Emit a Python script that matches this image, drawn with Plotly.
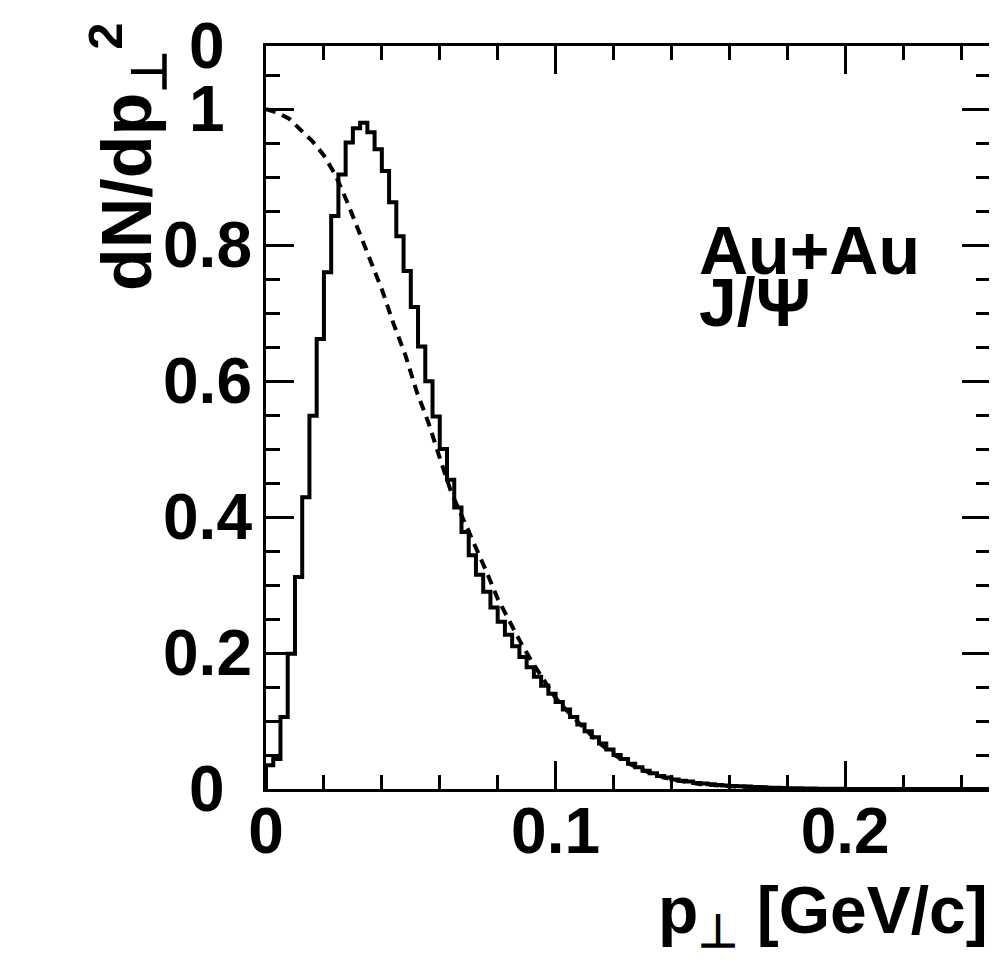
import numpy as np
import plotly.graph_objects as go

# ---------------- data ----------------
bin_width = 0.0025  # GeV/c
hist_values = [
    0.035, 0.044, 0.106, 0.199, 0.312, 0.429, 0.549, 0.662, 0.760, 0.843,
    0.904, 0.951, 0.972, 0.980, 0.966, 0.941, 0.909, 0.863, 0.813, 0.762,
    0.709, 0.651, 0.600, 0.548, 0.500, 0.455, 0.414, 0.378, 0.344, 0.315,
    0.290, 0.267, 0.246, 0.227, 0.210, 0.194, 0.179, 0.165, 0.152, 0.140,
    0.128, 0.117, 0.106, 0.095, 0.085, 0.076, 0.067, 0.058, 0.050, 0.044,
    0.037, 0.032, 0.027, 0.023, 0.019, 0.017, 0.014, 0.012, 0.011, 0.009,
    0.008, 0.007, 0.006, 0.005, 0.0045, 0.004, 0.0035, 0.003, 0.0025, 0.002,
    0.0018, 0.0015, 0.0012, 0.001, 0.0008, 0.0006, 0.0005, 0.0004, 0.0003, 0.0002,
    0, 0, 0, 0, 0, 0, 0, 0, 0, 0,
    0, 0, 0, 0, 0, 0, 0, 0, 0, 0,
]

dash_pt = [0.000, 0.004, 0.008, 0.012, 0.016, 0.020, 0.024, 0.028, 0.032, 0.036,
           0.040, 0.044, 0.048, 0.052, 0.056, 0.060, 0.064, 0.068, 0.072, 0.076,
           0.080, 0.084, 0.088, 0.092, 0.096, 0.100, 0.105, 0.110, 0.115, 0.120,
           0.125, 0.130, 0.135, 0.140, 0.145, 0.150, 0.160, 0.170, 0.180]
dash_val = [1.000, 0.995, 0.986, 0.970, 0.953, 0.932, 0.903, 0.864, 0.820, 0.775,
            0.735, 0.685, 0.640, 0.585, 0.540, 0.487, 0.436, 0.398, 0.360, 0.321,
            0.280, 0.246, 0.215, 0.186, 0.160, 0.134, 0.110, 0.088, 0.068, 0.051,
            0.038, 0.028, 0.020, 0.014, 0.010, 0.007, 0.004, 0.002, 0.001]

x_tick_vals = [0, 0.1, 0.2]
x_tick_text = ["0", "0.1", "0.2"]
y_tick_vals = [0, 0.2, 0.4, 0.6, 0.8, 1.0]
y_tick_text = ["0", "0.2", "0.4", "0.6", "0.8", "1"]

x_title = "p<sub>⊥</sub> [GeV/c]"
y_title = "dN/dp<sub>⊥</sub><sup>2</sup>"
label_lines = ["Au+Au", "J/Ψ"]

# ---------------- figure ----------------
FONT = "Liberation Sans, Arial, Helvetica, sans-serif"


def fnt(size):
    return dict(size=size, family=FONT, color="black", weight="bold")


edges = np.arange(len(hist_values) + 1) * bin_width
hx = np.concatenate([[0.0], edges])
hy = np.concatenate([[0.0], hist_values, [hist_values[-1]]])

fig = go.Figure()
fig.add_trace(go.Scatter(
    x=dash_pt, y=dash_val, mode="lines",
    line=dict(color="black", width=4, dash="10px,7px"),
    showlegend=False, hoverinfo="skip"))
fig.add_trace(go.Scatter(
    x=hx, y=hy, mode="lines", line_shape="hv",
    line=dict(color="black", width=4),
    showlegend=False, hoverinfo="skip"))

axis_common = dict(
    showline=True, linecolor="black", linewidth=3, mirror="ticks",
    ticks="inside", ticklen=28, tickwidth=3, tickcolor="black",
    showgrid=False, zeroline=False,
)

fig.update_layout(
    width=997, height=973,
    margin=dict(l=258, r=12, t=38, b=192),
    paper_bgcolor="white", plot_bgcolor="white",
    font=fnt(64),
    xaxis=dict(range=[0, 0.25], tickvals=x_tick_vals, ticktext=x_tick_text,
               tickfont=fnt(64), ticklabelstandoff=-16,
               minor=dict(ticks="inside", dtick=0.02, tick0=0, ticklen=14,
                          tickwidth=3, tickcolor="black", showgrid=False),
               **axis_common),
    yaxis=dict(range=[0, 1.093], tickvals=y_tick_vals, showticklabels=False,
               minor=dict(ticks="inside", dtick=0.05, tick0=0, ticklen=14,
                          tickwidth=3, tickcolor="black", showgrid=False),
               **axis_common),
)

annotations = []
# y tick labels (centered as in the original)
for v, t in zip(y_tick_vals, y_tick_text):
    annotations.append(dict(x=-0.081, xref="paper", y=v, yref="y", text=t,
                            showarrow=False, xanchor="center", yanchor="middle",
                            font=fnt(64)))
# stray top label
annotations.append(dict(x=-0.081, xref="paper", y=1.0, yref="paper", text="0",
                        showarrow=False, xanchor="center", yanchor="middle",
                        font=fnt(64)))
# axis titles
annotations.append(dict(x=1.0, xref="paper", y=-0.17, yref="paper", text=x_title,
                        showarrow=False, xanchor="right", yanchor="middle",
                        font=fnt(66)))
annotations.append(dict(x=-0.192, xref="paper", y=0.852, yref="paper", text=y_title,
                        textangle=-90, showarrow=False, xanchor="center",
                        yanchor="middle", font=fnt(70)))
# physics labels
annotations.append(dict(x=0.595, xref="paper", y=0.725, yref="paper", text=label_lines[0],
                        showarrow=False, xanchor="left", yanchor="middle",
                        font=fnt(68)))
annotations.append(dict(x=0.595, xref="paper", y=0.655, yref="paper", text=label_lines[1],
                        showarrow=False, xanchor="left", yanchor="middle",
                        font=fnt(68)))
fig.update_layout(annotations=annotations)

fig.write_html("out.html")
